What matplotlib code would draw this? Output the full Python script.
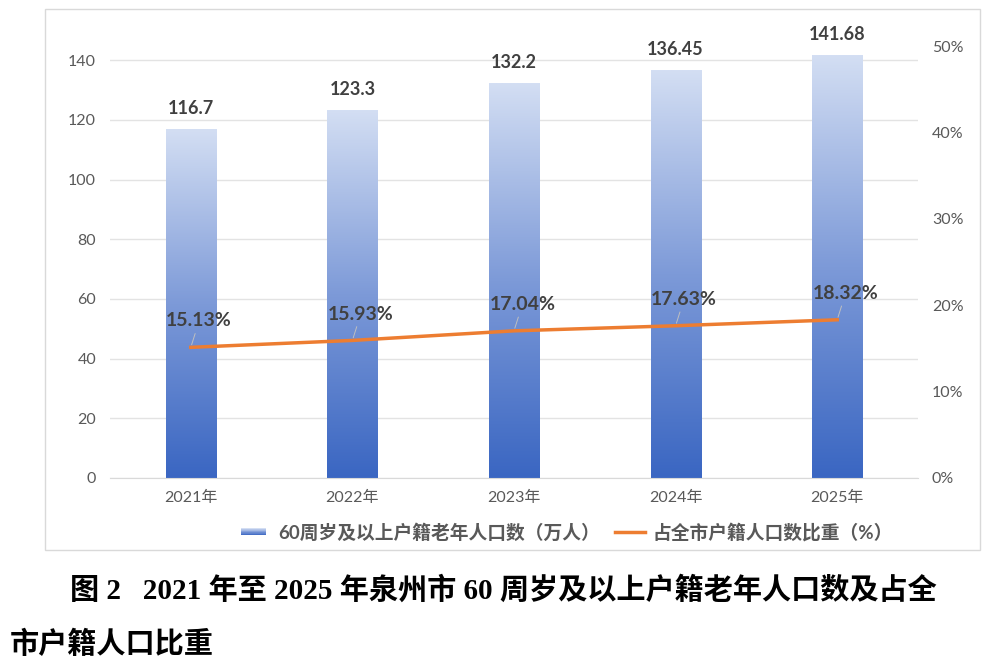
import numpy as np
import matplotlib
matplotlib.use("Agg")
import matplotlib.pyplot as plt
from matplotlib.colors import LinearSegmentedColormap
from matplotlib.patches import Rectangle
from matplotlib.legend_handler import HandlerBase
from matplotlib.lines import Line2D

plt.rcParams['font.family'] = ['Lato', 'Noto Sans CJK SC', 'DejaVu Sans']

# 数据
years = ["2021年", "2022年", "2023年", "2024年", "2025年"]
elderly = [116.7, 123.3, 132.2, 136.45, 141.68]       # 万人
share = [15.13, 15.93, 17.04, 17.63, 18.32]           # %
bar_label = "60周岁及以上户籍老年人口数（万人）"
line_label = "占全市户籍人口数比重（%）"
caption1 = "图 2   2021 年至 2025 年泉州市 60 周岁及以上户籍老年人口数及占全"
caption2 = "市户籍人口比重"

blue_cmap = LinearSegmentedColormap.from_list("bl", ["#3a66c2", "#7d9ad8", "#d3def3"])
orange = "#ed7d31"
grey_txt = "#595959"
dark_txt = "#404040"


class GradientHandler(HandlerBase):
    def create_artists(self, legend, orig_handle, xdescent, ydescent,
                       width, height, fontsize, trans):
        n = 12
        h = height * 0.55
        w = width * 0.85
        y0 = -ydescent + (height - h) / 2
        arts = []
        for i in range(n):
            r = Rectangle((-xdescent, y0 + i * h / n), w, h / n + 0.05,
                          facecolor=blue_cmap(i / (n - 1)), edgecolor='none',
                          transform=trans)
            arts.append(r)
        return arts


fig = plt.figure(figsize=(10, 6.7), dpi=100)
ax = fig.add_axes([0.11, 0.2866, 0.808, 0.6444])
ax2 = ax.twinx()

x = np.arange(len(years))
bw = 0.31
grad = np.linspace(0, 1, 256).reshape(-1, 1)
for xi, v in zip(x, elderly):
    ax.imshow(grad, cmap=blue_cmap, origin='lower', aspect='auto',
              extent=(xi - bw / 2, xi + bw / 2, 0, v), zorder=2)
    ax.annotate(f"{v:g}", (xi, v), xytext=(0, 9), textcoords='offset points',
                ha='center', va='bottom', fontsize=13, fontweight='bold',
                color=dark_txt)

ax.set_xlim(-0.5, len(years) - 0.5)
ax.set_ylim(0, 144.7)
ax.set_yticks(range(0, 141, 20))
ax.set_xticks(x)
ax.set_xticklabels(years)
ax.grid(axis='y', color='#e3e3e3', lw=1, zorder=0)
ax.set_axisbelow(True)
for s in ['top', 'right', 'left']:
    ax.spines[s].set_visible(False)
ax.spines['bottom'].set_color('#d9d9d9')
ax.tick_params(axis='both', length=0, labelsize=11.5, labelcolor=grey_txt)
ax.tick_params(axis='x', pad=9)
ax.tick_params(axis='y', pad=10)

ax2.plot(x, [s / 100 for s in share], color=orange, lw=2.5, zorder=3)
ax2.set_ylim(0, 0.5)
ax2.set_yticks(np.arange(0, 0.51, 0.1))
ax2.set_yticklabels([f"{int(round(t * 100))}%" for t in np.arange(0, 0.51, 0.1)])
ax2.tick_params(axis='y', length=0, labelsize=11.5, labelcolor=grey_txt, pad=10)
for s in ax2.spines.values():
    s.set_visible(False)
for xi, s in zip(x, share):
    ax2.annotate(f"{s:.2f}%", (xi, s / 100), xytext=(6, 19),
                 textcoords='offset points', ha='center', va='center',
                 fontsize=14, fontweight='bold', color=dark_txt,
                 arrowprops=dict(arrowstyle='-', color='#bfbfbf', lw=0.7,
                                 shrinkA=1, shrinkB=2))

handles = [Rectangle((0, 0), 1, 1),
           Line2D([], [], color=orange, lw=2.5)]
fig.legend(handles, [bar_label, line_label], loc='center', ncol=2,
           bbox_to_anchor=(0.567, 0.206), frameon=False,
           handler_map={Rectangle: GradientHandler()},
           prop={'size': 13.5, 'weight': 'bold'}, labelcolor=grey_txt,
           handlelength=1.6, columnspacing=0.8, handletextpad=0.4)

# 外框
fig.patches.append(Rectangle((0.045, 0.179), 0.935, 0.8075, transform=fig.transFigure,
                             fill=False, edgecolor='#d9d9d9', lw=1))

cap_font = ['Liberation Serif', 'Noto Sans CJK SC']
fig.text(0.07, 0.119, caption1, ha='left', va='center', fontsize=21,
         fontweight='bold', family=cap_font, color='black')
fig.text(0.01, 0.037, caption2, ha='left', va='center', fontsize=21,
         fontweight='bold', family=cap_font, color='black')

fig.savefig("out.png", dpi=100)
